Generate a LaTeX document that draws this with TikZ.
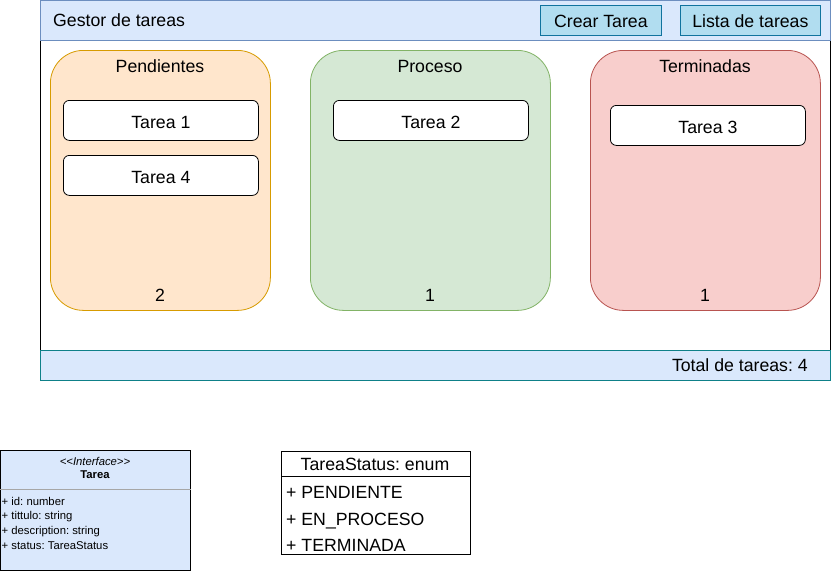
\documentclass[tikz,border=0pt]{standalone}
\usepackage{fontspec}
\setmainfont{Liberation Sans}
\definecolor{barfill}{HTML}{DAE8FC}
\definecolor{barline}{HTML}{6C8EBF}
\definecolor{footline}{HTML}{0E8088}
\definecolor{btnfill}{HTML}{B1DDF0}
\definecolor{btnline}{HTML}{10739E}
\definecolor{pendfill}{HTML}{FFE6CC}
\definecolor{pendline}{HTML}{D79B00}
\definecolor{procfill}{HTML}{D5E8D4}
\definecolor{procline}{HTML}{82B366}
\definecolor{termfill}{HTML}{F8CECC}
\definecolor{termline}{HTML}{B85450}
\newcommand{\bigtext}{\fontsize{17.7}{21}\selectfont}
\newcommand{\smalltext}{\fontsize{11.3}{14}\selectfont}
\frenchspacing

\begin{document}
\begin{tikzpicture}[x=1pt, y=-1pt,
        box/.style={draw, line width=0.8pt, inner sep=0pt, anchor=north west},
        column/.style={box, rounded corners=33pt, minimum width=220pt, minimum height=260pt},
        taskbox/.style={box, fill=white, rounded corners=6pt, minimum width=195pt, minimum height=40pt, font=\bigtext, text height=15.4pt, text depth=0pt},
        button/.style={box, fill=btnfill, draw=btnline, minimum height=30pt, font=\bigtext, text height=13.4pt, text depth=0pt},
        big/.style={font=\bigtext, inner sep=0pt, anchor=base},
        small/.style={font=\smalltext, inner sep=0pt, anchor=base west}]
        \useasboundingbox (0, 0) rectangle (831, 571);

        \node[box, fill=white, minimum width=790pt, minimum height=310pt] (frame) at (40, 40) {};
        \node[box, fill=barfill, draw=barline, minimum width=790pt, minimum height=40pt] (header) at (40, 0) {};
        \node[box, fill=barfill, draw=footline, minimum width=790pt, minimum height=30pt] (footer) at (40, 350) {};

        \node[big, anchor=base west] (title) at (53, 26.7) {Gestor de tareas};
        \node[button, minimum width=121pt] (crear) at (540, 5) {Crear Tarea};
        \node[button, minimum width=140pt] (lista) at (680, 5) {Lista de tareas};
        \node[big, anchor=base east] (total) at (808, 371.7) {Total de tareas: 4};

        \node[column, fill=pendfill, draw=pendline] (pend) at (50, 50) {};
        \node[column, fill=procfill, draw=procline, minimum width=240pt] (proc) at (310, 50) {};
        \node[column, fill=termfill, draw=termline, minimum width=230pt] (term) at (590, 50) {};

        \node[big] (pendTitle) at (160, 72) {Pendientes};
        \node[big] (procTitle) at (430, 72) {Proceso};
        \node[big] (termTitle) at (705, 72) {Terminadas};

        \node[taskbox] (t1) at (63, 100) {Tarea 1};
        \node[taskbox] (t4) at (63, 155) {Tarea 4};
        \node[taskbox] (t2) at (333, 100) {Tarea 2};
        \node[taskbox] (t3) at (610, 105) {Tarea 3};

        \node[big] (pendCount) at (160, 301) {2};
        \node[big] (procCount) at (430, 301) {1};
        \node[big] (termCount) at (705, 301) {1};

        \node[box, fill=barfill, minimum width=190pt, minimum height=120pt] (iface) at (0, 450) {};
        \draw[gray!70, line width=0.8pt] (iface.west |- 0, 489) -- (iface.east |- 0, 489);
        \node[small, font=\smalltext\itshape, anchor=base] (ifaceTag) at (95, 465) {{<}{<}Interface{>}{>}};
        \node[small, font=\smalltext\bfseries, anchor=base] (ifaceName) at (95, 478.3) {Tarea};
        \node[small] (aId) at (1.5, 505) {+ id: number};
        \node[small] (aTitle) at (1.5, 519.7) {+ tittulo: string};
        \node[small] (aDesc) at (1.5, 534.4) {+ description: string};
        \node[small] (aStatus) at (1.5, 549) {+ status: TareaStatus};

        \node[box, fill=white, minimum width=189pt, minimum height=103pt] (enum) at (281, 451) {};
        \draw[line width=0.8pt] (enum.west |- 0, 476) -- (enum.east |- 0, 476);
        \node[big] (enumName) at (375, 470) {TareaStatus: enum};
        \node[big, anchor=base west] (ePend) at (286, 498.3) {+ PENDIENTE};
        \node[big, anchor=base west] (eProc) at (286, 525) {+ EN\_PROCESO};
        \node[big, anchor=base west] (eTerm) at (286, 551) {+ TERMINADA};
    \end{tikzpicture}
\end{document}
